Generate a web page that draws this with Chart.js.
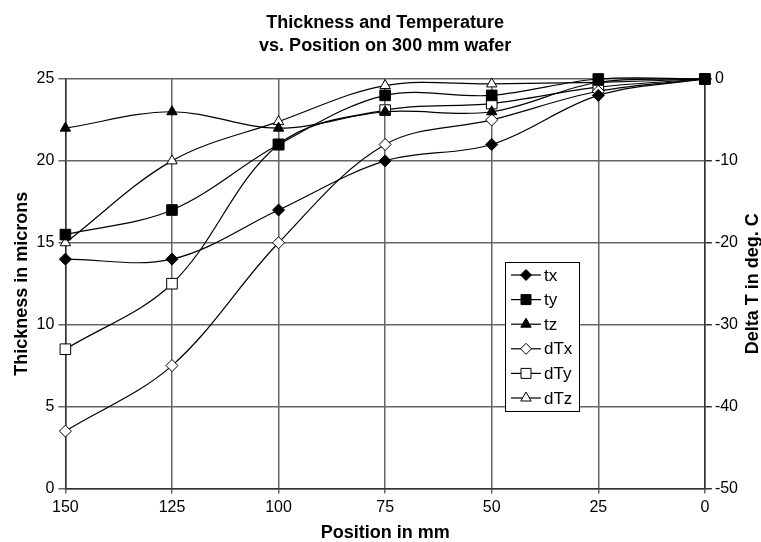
<!DOCTYPE html>
<html>
<head>
<meta charset="utf-8">
<script src="https://cdn.jsdelivr.net/npm/chart.js@4/dist/chart.umd.min.js"></script>
<style>
  body { margin: 0; background: #fff; }
  #wrap { width: 761px; height: 542px; }
</style>
</head>
<body>
<div id="wrap"><canvas id="chart"></canvas></div>
<script>
// x positions (mm) and series
const positions = ['150', '125', '100', '75', '50', '25', '0'];
const tx = [14, 14, 17, 20, 21, 24, 25];
const ty = [15.5, 17, 21, 24, 24, 25, 25];
const tz = [22, 23, 22, 23, 23, 24.8, 25];
const dTx = [-43, -35, -20, -8, -5, -1.5, 0];
const dTy = [-33, -25, -8, -3.8, -3, -1, 0];
const dTz = [-20, -10, -5.2, -0.8, -0.6, -0.4, 0];
const thicknessTicks = [0, 5, 10, 15, 20, 25];
const deltaTicks = [-50, -40, -30, -20, -10, 0];
const titleLines = ['Thickness and Temperature', 'vs. Position on 300 mm wafer'];

const FONT = 'Liberation Sans, Arial, sans-serif';

function series(label, data, style, filled, axis) {
    return {
        label: label,
        data: data,
        yAxisID: axis,
        borderColor: '#000',
        borderWidth: 1.2,
        pointStyle: style,
        pointRadius: style === 'rect' ? 7.5 : 6,
        pointBorderWidth: 1,
        pointBorderColor: '#000',
        pointBackgroundColor: filled ? '#000' : '#fff',
        tension: 0.35,
        capBezierPoints: false,
        fill: false,
        clip: false
    };
}

const datasets = [
    series('tx', tx, 'rectRot', true, 'y'),
    series('ty', ty, 'rect', true, 'y'),
    series('tz', tz, 'triangle', true, 'y'),
    series('dTx', dTx, 'rectRot', false, 'y1'),
    series('dTy', dTy, 'rect', false, 'y1'),
    series('dTz', dTz, 'triangle', false, 'y1')
];

function drawMarker(ctx, style, x, y, filled) {
    ctx.beginPath();
    if (style === 'rect') {
        ctx.rect(x - 5, y - 5, 10, 10);
    } else if (style === 'rectRot') {
        ctx.moveTo(x, y - 5.5); ctx.lineTo(x + 5.5, y); ctx.lineTo(x, y + 5.5); ctx.lineTo(x - 5.5, y); ctx.closePath();
    } else {
        ctx.moveTo(x, y - 6); ctx.lineTo(x + 5.2, y + 3); ctx.lineTo(x - 5.2, y + 3); ctx.closePath();
    }
    ctx.fillStyle = filled ? '#000' : '#fff';
    ctx.fill();
    ctx.lineWidth = 1;
    ctx.strokeStyle = '#000';
    ctx.stroke();
}

// title over the plot, legend box inside the plot, right axis title (reads bottom to top)
const extras = {
    id: 'extras',
    afterDatasetsDraw(chart) {
        const ctx = chart.ctx;
        const area = chart.chartArea;
        ctx.save();

        ctx.fillStyle = '#000';
        ctx.font = 'bold 18px ' + FONT;
        ctx.textAlign = 'center';
        ctx.textBaseline = 'alphabetic';
        titleLines.forEach((t, i) => ctx.fillText(t, (area.left + area.right) / 2, 28 + i * 23));

        const bx = 505, by = 262, bw = 74, bh = 149;
        ctx.fillStyle = '#fff';
        ctx.fillRect(bx, by, bw, bh);
        ctx.strokeStyle = '#000';
        ctx.lineWidth = 1;
        ctx.strokeRect(bx + 0.5, by + 0.5, bw, bh);
        ctx.font = '17px ' + FONT;
        ctx.textAlign = 'left';
        ctx.textBaseline = 'middle';
        chart.data.datasets.forEach((ds, i) => {
            const y = by + 13 + i * 24.6;
            ctx.beginPath();
            ctx.moveTo(511, y); ctx.lineTo(541, y);
            ctx.strokeStyle = '#000'; ctx.lineWidth = 1.2; ctx.stroke();
            drawMarker(ctx, ds.pointStyle, 526, y, ds.pointBackgroundColor === '#000');
            ctx.fillStyle = '#000';
            ctx.fillText(ds.label, 544, y + 1);
        });

        ctx.font = 'bold 18px ' + FONT;
        ctx.textAlign = 'center';
        ctx.translate(753, (area.top + area.bottom) / 2);
        ctx.rotate(-Math.PI / 2);
        ctx.fillText('Delta T in deg. C', 0, 0);
        ctx.restore();
    }
};

new Chart(document.getElementById('chart'), {
    type: 'line',
    data: { labels: positions, datasets: datasets },
    plugins: [extras],
    options: {
        responsive: true,
        maintainAspectRatio: false,
        animation: false,
        layout: { padding: { left: 11, right: 20, top: 79, bottom: 0 } },
        plugins: {
            legend: { display: false },
            tooltip: { enabled: false },
            title: { display: false }
        },
        scales: {
            x: {
                grid: { color: '#666', lineWidth: 1.5, tickLength: 5 },
                border: { color: '#333', width: 1.5 },
                ticks: { color: '#000', font: { family: FONT, size: 16, lineHeight: 1.1 }, maxRotation: 0, padding: 5 },
                title: { display: true, text: 'Position in mm', color: '#000', font: { family: FONT, size: 18, weight: 'bold', lineHeight: 1.0 }, padding: { top: 3, bottom: 0 } }
            },
            y: {
                position: 'left',
                min: thicknessTicks[0],
                max: thicknessTicks[thicknessTicks.length - 1],
                ticks: { stepSize: thicknessTicks[1] - thicknessTicks[0], color: '#000', font: { family: FONT, size: 16 }, padding: 4 },
                grid: { color: '#666', lineWidth: 1.5, tickLength: 7 },
                border: { color: '#333', width: 1.5 },
                title: { display: true, text: 'Thickness in microns', color: '#000', font: { family: FONT, size: 18, weight: 'bold' }, padding: { top: 0, bottom: 0 } }
            },
            y1: {
                position: 'right',
                min: deltaTicks[0],
                max: deltaTicks[deltaTicks.length - 1],
                ticks: { stepSize: deltaTicks[1] - deltaTicks[0], color: '#000', font: { family: FONT, size: 16 }, padding: 3 },
                grid: { drawOnChartArea: false, color: '#333', lineWidth: 1.5, tickLength: 7 },
                border: { color: '#333', width: 1.5 }
            }
        }
    }
});
</script>
</body>
</html>
